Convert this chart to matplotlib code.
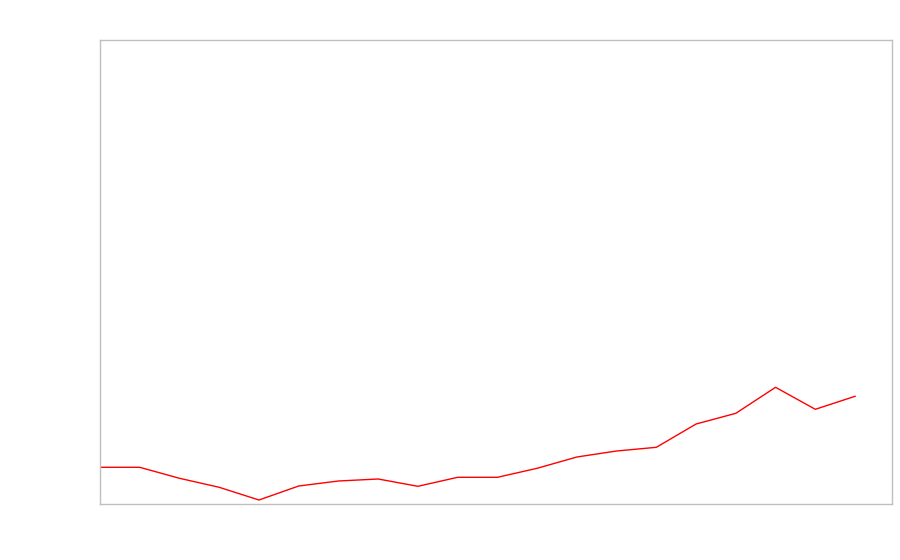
import matplotlib
matplotlib.use("Agg")
import matplotlib.pyplot as plt

# data (arbitrary units, axis 0..464)
steps = list(range(20))
values = [36.7, 36.7, 25.7, 16.7, 4.0, 18.0, 23.0, 25.0, 17.7, 26.7,
          26.7, 35.7, 47.0, 53.0, 56.7, 80.0, 90.7, 116.7, 94.7, 107.7]


def plot_line(x, y):
    fig = plt.figure(figsize=(9, 5.6), dpi=100)
    ax = fig.add_axes([100 / 900, 1 - 504 / 560, 792 / 900, 464 / 560])
    ax.plot(x, y, color="#ff0000", linewidth=1.0)
    ax.set_xlim(0, 19.93)
    ax.set_ylim(0, 464)
    ax.set_xticks([])
    ax.set_yticks([])
    for spine in ax.spines.values():
        spine.set_color("#bfbfbf")
        spine.set_linewidth(1.0)
    fig.savefig("out.png", dpi=100)


if __name__ == "__main__":
    plot_line(steps, values)
